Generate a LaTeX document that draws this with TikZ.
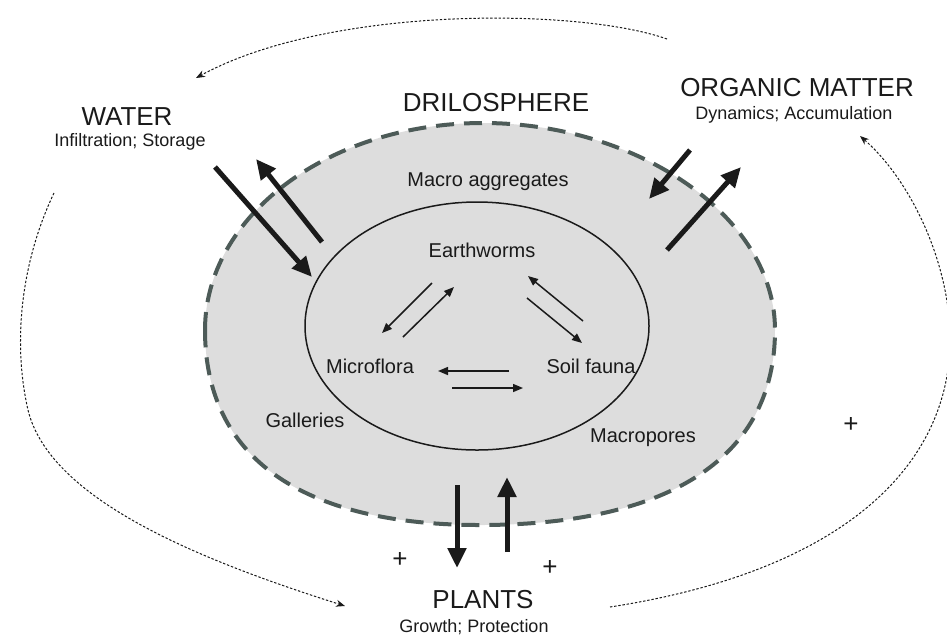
\documentclass[tikz,border=0pt]{standalone}
\usepackage{fontspec}
\setmainfont{Liberation Sans}
\usetikzlibrary{arrows.meta,shapes.geometric}
\definecolor{rim}{HTML}{4D5B58}
\definecolor{soil}{HTML}{DDDDDD}
\definecolor{ink}{HTML}{1A1A1A}

\begin{document}
\begin{tikzpicture}[x=0.5pt,y=-0.5pt,
  big/.style={font=\fontsize{13}{15}\selectfont,text=ink,inner sep=0pt},
  sub/.style={font=\fontsize{9}{11}\selectfont,text=ink,inner sep=0pt},
  lbl/.style={font=\fontsize{10}{12}\selectfont,text=ink,inner sep=0pt},
  plus/.style={font=\fontsize{13}{15}\selectfont,text=ink,inner sep=0pt},
  flux/.style={draw=ink,line width=2.5pt,-{Triangle[length=10pt,width=9pt]}},
  link/.style={draw=ink,line width=0.75pt,-{Triangle[length=5pt,width=4pt]}},
  feedback/.style={draw=ink,line width=0.5pt,dash pattern=on 1.2pt off 0.9pt,-{Stealth[length=4.5pt,width=3.5pt]}}]
\useasboundingbox (0,0) rectangle (947,634);

% drilosphere
\draw[rim,line width=2pt,dash pattern=on 9pt off 5pt,fill=soil]
  (205,330) .. controls (205,216) and (329,123) .. (483,123)
  .. controls (637,123) and (775,216) .. (775,330)
  .. controls (775,456) and (672,525) .. (480,525)
  .. controls (301,525) and (205,457) .. cycle;
\node[draw=ink,line width=0.75pt,ellipse,minimum width=172pt,minimum height=124pt,inner sep=0pt] (core) at (477,326) {};

% titles
\node[big] (water) at (127,117) {WATER};
\node[sub] (watersub) at (130,142) {Infiltration; Storage};
\node[big] (drilo) at (496,103) {DRILOSPHERE};
\node[big] (om) at (797,88) {ORGANIC MATTER};
\node[sub] (omsub) at (794,115) {Dynamics; Accumulation};
\node[big] (plants) at (483,600) {PLANTS};
\node[sub] (plantsub) at (474,627) {Growth; Protection};

% labels
\node[lbl] (macro) at (488,182) {Macro aggregates};
\node[lbl] (worms) at (482,250) {Earthworms};
\node[lbl] (flora) at (370,366) {Microflora};
\node[lbl] (fauna) at (591,366) {Soil fauna};
\node[lbl] (gal) at (305,420) {Galleries};
\node[lbl] (pores) at (643,438) {Macropores};
\node[plus] (p1) at (851,425) {+};
\node[plus] (p2) at (400,560) {+};
\node[plus] (p3) at (550,568) {+};

% arrow ends
\coordinate (w1) at (215,167); \coordinate (w2) at (312,277);
\coordinate (w3) at (322,242); \coordinate (w4) at (256,159);
\coordinate (o1) at (690,150); \coordinate (o2) at (649,199);
\coordinate (o3) at (667,250); \coordinate (o4) at (741,167);
\coordinate (l1) at (457,485); \coordinate (l2) at (457,568);
\coordinate (l3) at (507,552); \coordinate (l4) at (507,477);
\coordinate (a1) at (432,283); \coordinate (a2) at (382,333);
\coordinate (a3) at (403,337); \coordinate (a4) at (454,287);
\coordinate (b1) at (583,321); \coordinate (b2) at (528,276);
\coordinate (b3) at (527,298); \coordinate (b4) at (582,343);
\coordinate (c1) at (509,371); \coordinate (c2) at (438,371);
\coordinate (c3) at (452,388); \coordinate (c4) at (523,388);
\coordinate (t1) at (667,39);  \coordinate (t2) at (196,78);
\coordinate (r1) at (610,607); \coordinate (r2) at (860,136);
\coordinate (s1) at (54,193);  \coordinate (s2) at (345,606);

\draw[flux] (w1) -- (w2);
\draw[flux] (w3) -- (w4);
\draw[flux] (o1) -- (o2);
\draw[flux] (o3) -- (o4);
\draw[flux] (l1) -- (l2);
\draw[flux] (l3) -- (l4);

\draw[link] (a1) -- (a2);
\draw[link] (a3) -- (a4);
\draw[link] (b1) -- (b2);
\draw[link] (b3) -- (b4);
\draw[link] (c1) -- (c2);
\draw[link] (c3) -- (c4);

% outer cycle
\draw[feedback] (t1) .. controls (580,8) and (330,5) .. (t2);
\draw[feedback] (r1) .. controls (850,570) and (955,460) .. (950,330)
  .. controls (946,250) and (905,175) .. (r2);
\draw[feedback] (s1) .. controls (22,260) and (12,340) .. (28,410)
  .. controls (50,500) and (200,560) .. (s2);
\end{tikzpicture}
\end{document}
